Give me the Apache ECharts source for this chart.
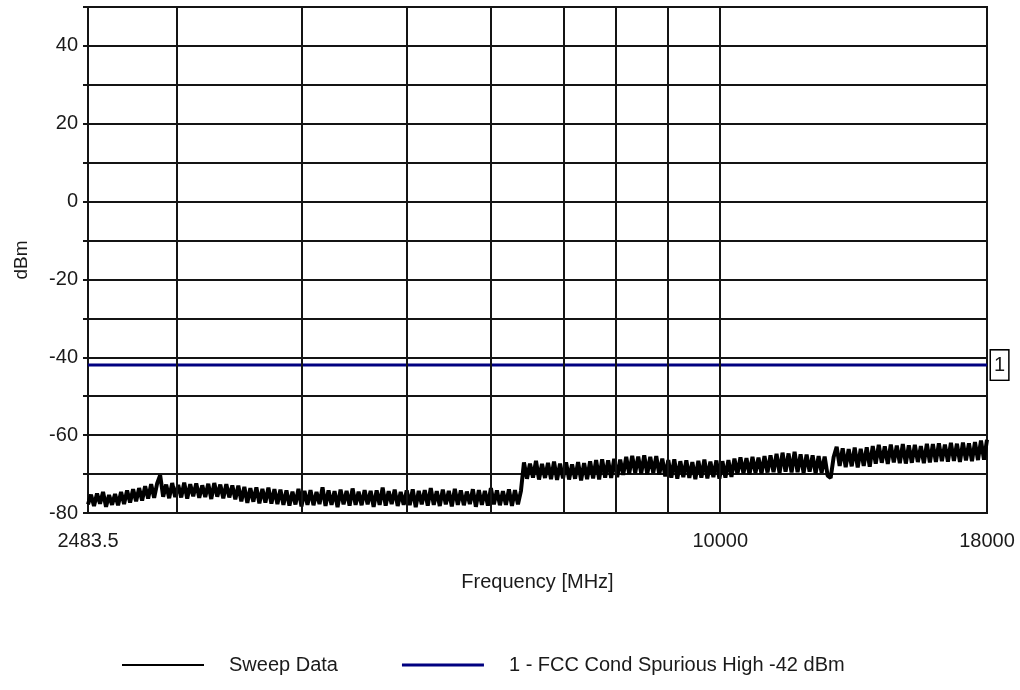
<!DOCTYPE html>
<html>
<head>
<meta charset="utf-8">
<title>Conducted Spurious Emissions</title>
<script src="https://cdn.jsdelivr.net/npm/echarts@6/dist/echarts.min.js"></script>
<style>
  html, body { margin: 0; padding: 0; background: #fff; }
  #chart { width: 1020px; height: 690px; }
</style>
</head>
<body>
<div id="chart"></div>
<script>
// Sweep span (MHz) and x tick labels
const sweepStartMHz = 2483.5;
const sweepStopMHz = 18000;
const xTickLabels = [2483.5, 10000, 18000];
const xGridLines = [3000, 4000, 5000, 6000, 7000, 8000, 9000, 10000];

// y axis range and labels
const yMin = -80;
const yMax = 50;
const yGridStep = 10;
const yLabelStep = 20;

// Limit line
const limitName = '1 - FCC Cond Spurious High -42 dBm';
const limitDbm = -42;
const limitTag = '1';

// Measured trace, dBm, one value per log-spaced sweep point
const sweepDbm = [
  -77.8, -75.3, -78.2, -75.0, -77.6, -74.6, -78.4, -75.4, -77.9, -75.1, -78.0,
  -74.6, -77.7, -74.2, -77.3, -73.9, -77.0, -73.6, -76.8, -73.1, -76.3,
  -72.6, -76.1, -72.4, -70.3, -75.8, -72.7, -76.2, -72.3, -75.9, -72.8,
  -76.0, -72.2, -76.3, -72.6, -75.7, -72.4, -76.1, -72.9, -75.9, -72.5,
  -76.4, -72.3, -75.8, -72.7, -76.2, -72.6, -76.0, -72.9, -76.5, -73.0,
  -77.0, -73.3, -77.4, -73.6, -77.1, -73.4, -77.5, -73.8, -77.3, -73.5, -77.6, -73.9, -77.7, -74.0,
  -77.9, -74.2, -78.1, -74.5, -77.8, -73.8, -78.3, -74.3, -77.9, -74.1,
  -78.0, -74.6, -77.7, -73.4, -78.2, -74.2, -77.9, -74.4, -78.5, -74.0,
  -77.8, -74.3, -78.1, -73.7, -77.9, -74.5, -78.0, -74.1, -77.8, -74.3,
  -78.4, -74.2, -77.9, -73.5, -78.1, -74.4, -77.7, -74.0, -78.2, -74.6,
  -77.9, -74.2, -78.0, -73.9, -78.5, -74.3, -77.8, -74.1, -78.1, -73.6,
  -77.9, -74.4, -78.2, -74.0, -77.8, -74.3, -78.3, -73.8, -77.9, -74.2,
  -78.0, -74.5, -77.7, -73.9, -78.4, -74.1, -77.9, -74.3, -78.1, -73.6,
  -77.8, -74.2, -78.0, -74.4, -77.9, -73.9, -78.2, -74.1, -77.8, -74.3,
  -67.0, -71.2, -67.3, -70.9, -66.6, -71.4, -67.4, -71.0, -67.1, -71.3,
  -66.8, -71.5, -67.3, -71.1, -67.0, -71.4, -67.5, -71.2, -66.9, -71.6, -67.2,
  -71.3, -66.7, -71.1, -66.4, -71.4, -66.2, -70.9, -66.5, -71.0, -66.1, -70.8, -66.3,
  -70.2, -65.6, -69.9, -65.3, -69.7, -65.5, -69.8, -65.2, -70.0, -65.6, -69.7, -65.4, -70.1,
  -66.0, -70.6, -66.4, -70.9, -66.2, -71.2, -66.7, -70.8, -66.5, -71.0, -66.9, -71.3,
  -66.6, -70.9, -66.3, -71.1, -66.8, -70.8, -66.5, -71.2, -66.7, -70.9, -66.4, -70.7,
  -66.0, -70.0, -65.7, -69.8, -65.9, -70.1, -65.6, -69.7, -65.8, -69.9, -65.4, -69.6, -65.2,
  -69.5, -64.8, -69.7, -64.5, -69.4, -64.7, -69.6, -64.3, -69.5, -64.9,
  -69.7, -65.0, -69.4, -65.2, -69.8, -65.4, -69.6, -65.5, -70.4, -71.0, -65.6,
  -63.0, -67.9, -63.4, -68.2, -63.6, -68.0, -63.2, -68.3, -63.5, -67.9, -63.1, -68.1,
  -62.8, -67.3, -62.5, -67.1, -62.9, -67.4, -62.4, -67.0, -62.7, -67.2,
  -62.3, -67.3, -62.6, -67.1, -62.5, -66.9, -62.8, -67.2, -62.2, -67.0,
  -62.3, -66.9, -62.1, -66.7, -62.4, -66.8, -62.0, -66.6, -62.2, -66.9,
  -61.9, -66.5, -62.1, -66.7, -61.8, -66.4, -61.4, -66.3, -61.2
];

// The frequency axis is logarithmic: plot on log10(MHz)
const lg = Math.log10;
const xLo = lg(sweepStartMHz);
const xHi = lg(sweepStopMHz);
const n = sweepDbm.length;
const sweepData = sweepDbm.map((v, i) => [xLo + (xHi - xLo) * i / (n - 1), v]);
const limitData = [[xLo, limitDbm], [xHi, limitDbm]];

const FONT = '"Liberation Sans", Arial, sans-serif';
const TEXT = '#1a1a1a';
const GRID = '#141414';
const FS = 20;

const chart = echarts.init(document.getElementById('chart'), null, { renderer: 'canvas' });
chart.setOption({
  animation: false,
  backgroundColor: '#fff',
  textStyle: { fontFamily: FONT, color: TEXT },
  grid: {
    left: 88, right: 33, top: 7, bottom: 177,
    show: true, borderColor: GRID, borderWidth: 2, backgroundColor: 'transparent'
  },
  xAxis: {
    type: 'value',
    min: xLo, max: xHi,
    name: 'Frequency [MHz]',
    nameLocation: 'middle',
    nameGap: 59,
    nameTextStyle: { fontFamily: FONT, fontSize: FS, color: TEXT },
    axisLine: { show: true, lineStyle: { color: GRID, width: 2 } },
    axisTick: { show: false },
    splitLine: { show: false },
    axisLabel: {
      customValues: xTickLabels.map(lg),
      showMinLabel: true, showMaxLabel: true,
      fontFamily: FONT, fontSize: FS, color: TEXT, margin: 18,
      formatter: (v) => {
        let best = xTickLabels[0];
        xTickLabels.forEach(t => { if (Math.abs(lg(t) - v) < Math.abs(lg(best) - v)) best = t; });
        return String(best);
      }
    }
  },
  yAxis: {
    type: 'value',
    min: yMin, max: yMax, interval: yGridStep,
    name: 'dBm',
    nameLocation: 'middle',
    nameGap: 57,
    nameRotate: 90,
    nameTextStyle: { fontFamily: FONT, fontSize: 19, color: TEXT },
    axisLine: { show: true, lineStyle: { color: GRID, width: 2 } },
    axisTick: { show: true, length: 5, lineStyle: { color: GRID, width: 2 } },
    splitLine: { show: true, lineStyle: { color: GRID, width: 2 } },
    axisLabel: {
      fontFamily: FONT, fontSize: FS, color: TEXT, margin: 10,
      formatter: (v) => (v % yLabelStep === 0 && v < yMax ? String(v) : '')
    }
  },
  legend: {
    data: [
      { name: 'Sweep Data', icon: 'path://M0,0H82V2H0Z' },
      { name: limitName, icon: 'path://M0,0H82V3H0Z' }
    ],
    bottom: 10,
    left: 117,
    itemWidth: 82,
    itemHeight: 14,
    itemGap: 64,
    textStyle: { fontFamily: FONT, fontSize: FS, color: TEXT, padding: [0, 0, 0, 20] }
  },
  series: [
    {
      name: 'Sweep Data',
      type: 'line',
      data: sweepData,
      symbol: 'none',
      color: '#000',
      lineStyle: { color: '#000', width: 4, join: 'bevel', cap: 'butt' },
      z: 3,
      markLine: {
        silent: true,
        symbol: 'none',
        label: { show: false },
        lineStyle: { color: GRID, width: 2, type: 'solid' },
        data: xGridLines.map(f => ({ xAxis: lg(f) }))
      }
    },
    {
      name: limitName,
      type: 'line',
      data: limitData,
      symbol: 'none',
      color: '#000080',
      lineStyle: { color: '#000080', width: 3 },
      z: 4,
      endLabel: {
        show: true,
        formatter: limitTag,
        distance: 4,
        fontFamily: FONT, fontSize: FS, color: TEXT,
        backgroundColor: '#fff',
        borderColor: '#000', borderWidth: 1.5,
        padding: [5, 3, 4, 3]
      }
    }
  ]
});
</script>
</body>
</html>
